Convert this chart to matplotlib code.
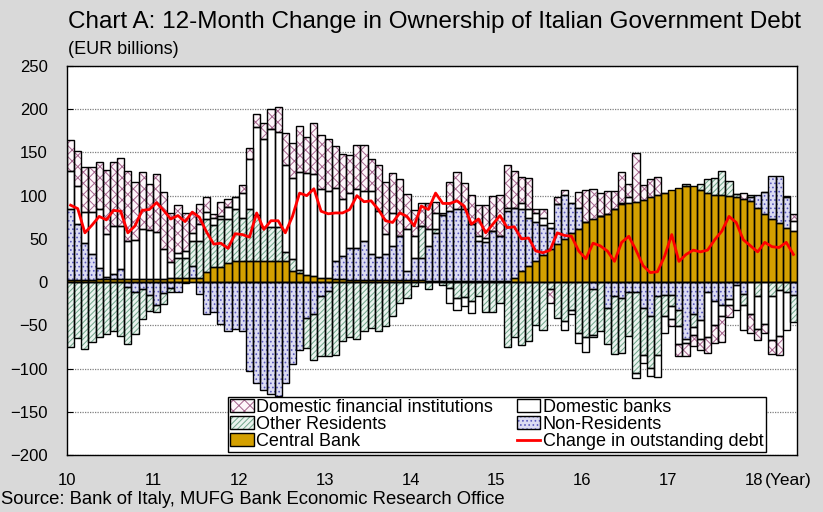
import numpy as np
import matplotlib.pyplot as plt
from matplotlib.patches import Patch
from matplotlib.lines import Line2D

plt.rcParams['font.family'] = ['Liberation Sans', 'DejaVu Sans']
plt.rcParams['hatch.linewidth'] = 0.7

# monthly, Jan 2010 - Jun 2018 (EUR bn, 12-month change)
central_bank = [3, 3, 3, 3, 4, 4, 4, 4, 4, 4, 4, 4, 4, 4,
                5, 5, 5, 5, 5,
                12, 18, 18, 22, 24, 24, 24, 24, 24, 24, 24, 24, 13, 10, 8,
                7, 5, 5, 4, 4, 3, 3, 3, 3, 3, 3, 2, 2, 2,
                2, 2, 1, 1, 1, 1, 1, 1, 1, 1, 1, 1, 1, 1,
                5, 13, 19, 25, 31, 38, 44, 50, 57, 62, 69, 73, 77, 79, 84, 90, 92, 93, 95, 98, 101,
                103, 106, 109, 111, 111, 106, 103, 101, 101, 100, 98, 96, 94, 86, 79, 73, 68, 63, 59]
non_residents = [82, 64, 42, 29, 12, 2, 5, 11, -6, -12, -8, -15, -27, -13,
                 -7, -11, -1, 14, -14,
                 -37, -34, -48, -56, -54, -57, -103, -117, -125, -129, -132, -117, -95, -78, -41,
                 -37, -16, -10, 20, 26, 36, 37, 44, 30, 26, 30, 40, 51, 11,
                 26, 26, 41, 56, 77, 81, 83, 83, 66, 46, 45, 58, 52, 81,
                 81, 71, 55, 44, 35, 25, 46, 51, 35, 24, 0, -8, 0, -30, -16, -18, -12, -12, -30, -39, -16,
                 -15, -15, -32, -66, -37, -44, -12, -22, -26, -20, -3, -14, 4, 15, 25, 50, 55, 35, -15]
other_residents = [-75, -65, -77, -69, -63, -60, -56, -62, -66, -48, -35, -18, -7, -12,
                   -4, 23, 23, 29, 43,
                   61, 48, 55, 51, 61, 50, 60, 54, 40, 40, 40, 11, 14, 4, -35,
                   -53, -69, -75, -84, -68, -64, -66, -57, -53, -57, -51, -39, -24, -18,
                   -5, 37, -8, 5, -3, -7, -18, -17, -22, -16, -34, -35, -24, -75,
                   -64, -73, -68, -50, -55, -8, -42, -45, -32, -59, -64, -53, -57, -42, -67, -64, -50, -93, -54, -60, -68,
                   -24, -13, -19, 3, -15, 7, 16, 20, 27, 17, 4, -13, 3, -16, 0, -16, -9, -12, -31]
domestic_banks = [43, 44, 36, 49, 68, 50, 56, 50, 43, 45, 57, 56, 54, 34,
                  18, 6, 8, 9, 19,
                  8, 8, 3, 14, 14, 29, 58, 101, 102, 113, 110, 101, 94, 113, 118,
                  118, 103, 100, 85, 66, 64, 68, 58, 72, 53, 23, 38, 0, 48,
                  25, 0, 19, 18, 0, -17, -14, -11, -14, 6, 5, 0, 0, 4,
                  0, 8, 10, 11, 8, 5, 0, -10, -5, -11, -17, -3, 0, 0, 0, 2, 6, -6, -9, -10, -26,
                  -20, -15, -21, -5, -9, -22, -52, -28, -13, -7, -29, -28, -37, -38, -49, -51, -53, -43, 12]
domestic_fi = [36, 41, 52, 52, 55, 74, 74, 78, 81, 67, 66, 53, 67, 66,
               57, 55, 44, 23, 23,
               17, 5, 17, 9, 0, 9, 13, 16, 18, 23, 29, 37, 40, 54, 42,
               59, 62, 60, 48, 52, 44, 51, 54, 37, 54, 60, 46, 66, 41,
               30, 26, 31, 13, 2, 34, 43, 31, 34, 36, 38, 41, 48, 50,
               42, 30, 36, 5, 10, -16, 9, 6, 0, 18, 37, 35, 26, 26, 21, 35, 16, 56, 17, 21, 21,
               0, -8, -14, -15, -13, -13, -18, -20, -30, -13, 0, 7, -22, -13, -10, -16, -22, 2, 8]
debt_change = [89, 85, 57, 66, 76, 72, 83, 82, 57, 65, 83, 84, 92, 83,
               73, 77, 70, 81, 75, 58, 44, 45, 39, 56, 55,
               52, 80, 61, 71, 71, 57, 76, 103, 100, 108, 82, 79,
               80, 80, 84, 100, 93, 94, 84, 71, 69, 80, 76, 65,
               88, 84, 103, 91, 91, 94, 88, 67, 73, 57, 67, 77, 63,
               64, 50, 51, 36, 34, 37, 57, 54, 53, 36, 27,
               45, 42, 36, 24, 46, 53, 37, 19, 11, 12,
               30, 55, 24, 32, 37, 35, 37, 49, 59, 76, 69, 49, 42, 35, 46, 41, 40, 46, 32]
year_labels = ['10', '11', '12', '13', '14', '15', '16', '17', '18']

# stacking order from zero outwards
series = [
    ('Central Bank', central_bank, '#D4A000', None, '#D4A000'),
    ('Non-Residents', non_residents, '#DCDCF3', '....', '#5A5ABE'),
    ('Other Residents', other_residents, '#EAF3EE', '//////', '#6FA58A'),
    ('Domestic banks', domestic_banks, 'white', None, 'white'),
    ('Domestic financial institutions', domestic_fi, '#FDF6FA', 'xxx', '#A5658E'),
]

n = len(debt_change)
x = np.arange(n)

fig = plt.figure(figsize=(8.23, 5.12), dpi=100, facecolor='#D9D9D9')
ax = fig.add_axes([67 / 823, 1 - 455 / 512, 730 / 823, 389 / 512])
ax.set_facecolor('white')

ax.set_yticks(np.arange(-200, 251, 50))
ax.grid(axis='y', linestyle=(0, (1, 1)), color='#7F7F7F', linewidth=0.9)
ax.set_axisbelow(True)

pos_base = np.zeros(n)
neg_base = np.zeros(n)
handles = {}
for name, vals, face, hatch, hcol in series:
    v = np.array(vals, dtype=float)
    assert len(v) == n, name
    bottom = np.where(v >= 0, pos_base, neg_base)
    ax.bar(x, v, width=1, bottom=bottom, color=face, hatch=hatch,
           edgecolor=hcol, linewidth=0, zorder=2)
    ax.bar(x, v, width=1, bottom=bottom, fill=False, edgecolor='black',
           linewidth=1, zorder=3)
    pos_base += np.where(v > 0, v, 0)
    neg_base += np.where(v < 0, v, 0)
    handles[name] = (Patch(facecolor=face, hatch=hatch, edgecolor=hcol, linewidth=0),
                     Patch(fill=False, edgecolor='black', linewidth=1))

ax.axhline(0, color='black', linewidth=1, zorder=4)
ax.plot(x, debt_change, color='#FF0000', linewidth=2, zorder=5)
handles['Change in outstanding debt'] = Line2D([], [], color='#FF0000', linewidth=2)

ax.set_xlim(-0.5, n - 0.5)
ax.set_ylim(-200, 250)
ax.set_xticks(np.arange(0, 97, 12) - 0.5)
ax.set_xticklabels(year_labels)
ax.tick_params(axis='x', length=0, pad=13, labelsize=12)
ax.tick_params(axis='y', direction='in', length=4, pad=14, labelsize=12)
for s in ax.spines.values():
    s.set_color('black')
    s.set_linewidth(1)

order = ['Domestic financial institutions', 'Other Residents', 'Central Bank',
         'Domestic banks', 'Non-Residents', 'Change in outstanding debt']
leg = ax.legend([handles[k] for k in order], order, ncol=2, loc='lower left',
                bbox_to_anchor=((228 - 67) / 730, 3 / 389), borderaxespad=0, fontsize=13,
                frameon=True, fancybox=False, edgecolor='black', framealpha=1,
                handlelength=1.3, handleheight=0.65, handletextpad=0.15,
                labelspacing=0.0, columnspacing=1.3, borderpad=0.12)
leg.get_frame().set_linewidth(1)
leg.set_zorder(10)

fig.text(435 / 823, 1 - 22 / 512, 'Chart A: 12-Month Change in Ownership of Italian Government Debt',
         ha='center', va='center', fontsize=17.5)
fig.text(68 / 823, 1 - 50 / 512, '(EUR billions)', ha='left', va='center', fontsize=13)
fig.text(765 / 823, 1 - 481 / 512, '(Year)', ha='left', va='center', fontsize=12.5)
fig.text(1 / 823, 1 - 499 / 512, 'Source: Bank of Italy, MUFG Bank Economic Research Office',
         ha='left', va='center', fontsize=13.3)

fig.savefig('out.png', dpi=100, facecolor=fig.get_facecolor())
